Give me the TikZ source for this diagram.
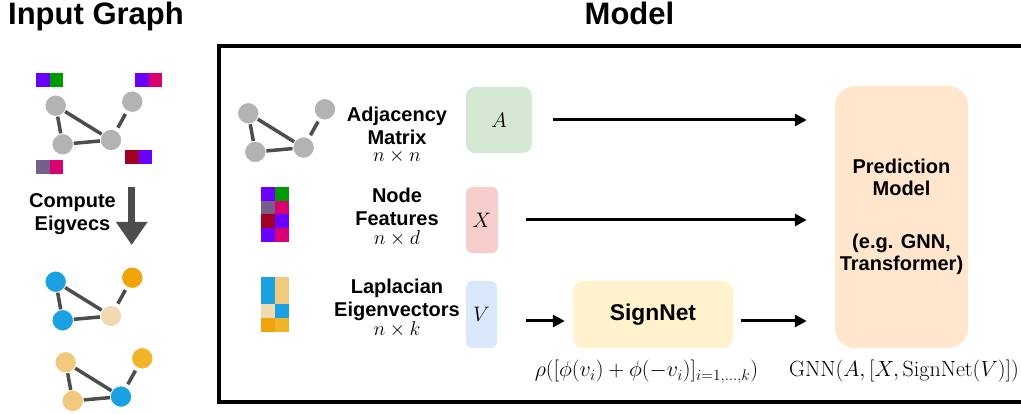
\documentclass[tikz,border=0pt]{standalone}
\usepackage{fix-cm}
\usepackage{fontspec}
\usetikzlibrary{arrows.meta,calc}
\newfontfamily\helv{Liberation Sans}
\definecolor{violetsq}{HTML}{6A00FF}
\definecolor{greensq}{HTML}{009900}
\definecolor{magentasq}{HTML}{D80073}
\definecolor{crimsonsq}{HTML}{A20025}
\definecolor{mauvesq}{HTML}{76608A}
\definecolor{eigblue}{HTML}{1BA1E2}
\definecolor{eigorange}{HTML}{F0A30A}
\definecolor{eigbeige}{HTML}{F0DBB0}
\definecolor{eigtan}{HTML}{F0C97D}
\definecolor{eiggold}{HTML}{F0B429}
\definecolor{nodegray}{HTML}{B3B3B3}
\definecolor{edgegray}{HTML}{4D4D4D}
\definecolor{boxgreen}{HTML}{D5E8D4}
\definecolor{boxred}{HTML}{F8CECC}
\definecolor{boxblue}{HTML}{DAE8FC}
\definecolor{boxyellow}{HTML}{FFF2CC}
\definecolor{boxorange}{HTML}{FFE6CC}
% one small graph: prefix, shift, four fills
\newcommand{\smallgraph}[6]{%
  \begin{scope}[shift={#2}]
    \node[gnode,fill=#3] (#1a) at (55.7,105.7) {};
    \node[gnode,fill=#4] (#1b) at (132.3,101.7) {};
    \node[gnode,fill=#5] (#1c) at (111,140) {};
    \node[gnode,fill=#6] (#1d) at (62.7,144.3) {};
    \draw[gedge] (#1a) -- (#1d) (#1a) -- (#1c) (#1d) -- (#1c) (#1c) -- (#1b);
  \end{scope}}
\begin{document}
\begin{tikzpicture}[x=1pt,y=-1pt,
  gnode/.style = {circle, draw=white, line width=0.8pt, minimum size=21.4pt, inner sep=0pt},
  gedge/.style = {edgegray, line width=3.5pt, shorten <=3pt, shorten >=3pt},
  lbl/.style = {font={\helv\bfseries\fontsize{20}{23.3}\selectfont}, align=center, anchor=base, inner sep=0pt},
  title/.style = {font={\helv\bfseries\fontsize{31}{36}\selectfont}, anchor=base, inner sep=0pt},
  mathlbl/.style = {font={\fontsize{22}{26}\selectfont}, anchor=base, inner sep=0pt},
  inbox/.style = {rounded corners=6pt, inner sep=0pt, font={\fontsize{21}{24}\selectfont}},
  flow/.style = {line width=3pt, -{Triangle[length=12pt,width=12pt]}}]
  \useasboundingbox (0,0) rectangle (1021,414);

  % left side
  \node[title] (intitle) at (96,25) {Input Graph};
  \smallgraph{in}{(0,0)}{nodegray}{nodegray}{nodegray}{nodegray}
  \foreach \px/\py/\ca/\cb in {36/72.7/violetsq/greensq, 135/72.7/violetsq/magentasq,
                              125/150/crimsonsq/violetsq, 36/160/mauvesq/magentasq} {
    \fill[\ca] (\px,\py) rectangle +(13.5,14);
    \fill[\cb] (\px+13.5,\py) rectangle +(13.5,14);
  }
  \node[lbl] (compute) at (72.5,231) {Compute\\Eigvecs};
  \coordinate (dtop) at (131.7,186.7);
  \coordinate (dbot) at (131.7,245);
  \draw[edgegray, line width=7pt, -{Triangle[length=23pt,width=30pt]}] (dtop) -- (dbot);
  \smallgraph{evA}{(0,176)}{eigblue}{eigorange}{eigbeige}{eigblue}
  \smallgraph{evB}{(10,256.6)}{eigtan}{eiggold}{eigblue}{eigtan}

  % model
  \node[title] (mtitle) at (629.5,25) {Model};
  \draw[line width=3.5pt] (1021,46) -| (219,402) -- (1021,402);
  \smallgraph{adj}{(192.6,7.6)}{nodegray}{nodegray}{nodegray}{nodegray}
  \foreach \ca/\cb [count=\r from 0] in {violetsq/greensq, mauvesq/magentasq, crimsonsq/violetsq, violetsq/magentasq} {
    \fill[\ca] (261,{187.3+13.6*\r}) rectangle +(14,13.6);
    \fill[\cb] (275,{187.3+13.6*\r}) rectangle +(14,13.6);
  }
  \foreach \ca/\cb [count=\r from 0] in {eigblue/eigtan, eigblue/eigtan, eigbeige/eigblue, eigorange/eiggold} {
    \fill[\ca] (261,{276.7+13.75*\r}) rectangle +(14,13.75);
    \fill[\cb] (275,{276.7+13.75*\r}) rectangle +(14,13.75);
  }
  \node[lbl] (adjtxt) at (397,161.7) {Adjacency\\Matrix\\[-6pt]$n\times n$};
  \node[lbl] (feattxt) at (397,245) {Node\\Features\\[-4pt]$n\times d$};
  \node[lbl] (eigtxt) at (397,336) {Laplacian\\Eigenvectors\\[-4pt]$n\times k$};

  \node[inbox, fill=boxgreen, rounded corners=9pt, minimum width=66pt, minimum height=66pt] (A) at (499,120) {$A$};
  \node[inbox, fill=boxred, minimum width=32pt, minimum height=66pt] (X) at (482,220) {$X$};
  \node[inbox, fill=boxblue, minimum width=31pt, minimum height=67pt] (V) at (481.5,314.5) {$V$};
  \node[inbox, fill=boxyellow, rounded corners=10pt, minimum width=160pt, minimum height=67pt,
        font={\helv\bfseries\fontsize{22.8}{26}\selectfont}] (sign) at (653,314.5) {SignNet};
  \node[inbox, fill=boxorange, rounded corners=20pt, minimum width=133pt, minimum height=262pt,
        align=center, font={\helv\bfseries\fontsize{20}{22.5}\selectfont}] (pred) at (901.5,217)
        {Prediction\\Model\\[30pt](e.g. GNN,\\Transformer)};

  \draw[flow, shorten <=21pt, shorten >=28pt] (A.east) -- (A.east -| pred.west);
  \draw[flow, shorten <=28pt, shorten >=28pt] (X.east) -- (X.east -| pred.west);
  \draw[flow, shorten <=29pt, shorten >=8pt] ($(V.east)+(0,6.5)$) -- ($(sign.west)+(0,6.5)$);
  \draw[flow, shorten <=7.5pt, shorten >=28pt] ($(sign.east)+(0,6.5)$) -- ($(sign.east -| pred.west)+(0,6.5)$);

  \node[mathlbl] (rho) at (646.5,377) {$\rho([\phi(v_i)+\phi(-v_i)]_{i=1,\ldots,k})$};
  \node[mathlbl] (gnn) at (904,377) {$\mathrm{GNN}(A,[X,\mathrm{SignNet}(V)])$};
\end{tikzpicture}
\end{document}
